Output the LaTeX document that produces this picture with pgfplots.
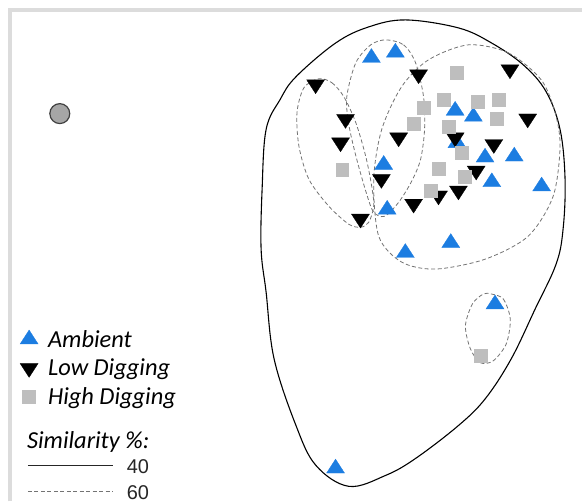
\documentclass[border=0pt]{standalone}
\usepackage{pgfplots}
\pgfplotsset{compat=1.18}
\usepackage{fontspec}
\setmainfont{Carlito}
\newfontfamily\arial{Liberation Sans}
\definecolor{ambblue}{RGB}{28,125,225}
\definecolor{hdgray}{RGB}{190,190,190}
\definecolor{frame}{RGB}{220,220,220}
\begin{document}
\begin{tikzpicture}
\begin{axis}[
  hide axis, scale only axis, width=584pt, height=503pt,
  xmin=0, xmax=584, ymin=0, ymax=503, y dir=reverse, clip=false,
  legend style={at={(axis cs:20,329)}, anchor=north west, draw=none, fill=none,
    inner sep=0pt, row sep=6.5pt, font=\itshape\fontsize{24.5}{28}\selectfont,
    cells={anchor=west}, /tikz/every odd column/.append style={column sep=8pt}},
  legend image code/.code={\draw[mark repeat=2,mark phase=2] plot coordinates {(0pt,0pt)(11pt,0pt)(22pt,0pt)};},
]
\path (axis cs:0,0) rectangle (axis cs:584,503);
% frame
\draw[frame, line width=4pt] (axis cs:10,503) -- (axis cs:10,10) -- (axis cs:584,10);
% 40% contour
\draw[black, line width=1.1pt] plot[smooth cycle, tension=0.6] coordinates {
 (407,20) (460,28) (493,43) (525,65) (548,92) (562,130) (567,180) (565,230) (558,265)
 (537,310) (513,360) (487,400) (460,427) (417,460) (387,477) (350,488) (317,467)
 (297,427) (275,360) (267,293) (262,250) (263,190) (267,130) (281,100) (297,77) (337,43) (370,27)};
% 60% contours
\tikzset{sim60/.style={black!55, line width=0.8pt, dash pattern=on 4pt off 2.5pt}}
\draw[sim60] plot[smooth cycle] coordinates {
 (320,79) (333,83) (345,97) (357,123) (367,157) (373,187) (375,207) (370,223) (362,228)
 (350,225) (330,207) (310,180) (300,147) (298,113) (305,88)};
\draw[sim60] plot[smooth cycle] coordinates {
 (387,40) (405,45) (417,63) (425,97) (426,130) (422,160) (413,182) (400,203) (386,217)
 (375,213) (368,195) (358,160) (350,125) (348,97) (357,63) (372,45)};
\draw[sim60] plot[smooth cycle] coordinates {
 (470,45) (510,53) (543,80) (557,113) (562,147) (555,197) (530,237) (487,260) (437,270)
 (403,263) (380,237) (375,180) (383,130) (403,87) (430,60)};
\draw[sim60] plot[smooth cycle] coordinates {
 (493,295) (505,300) (512,320) (508,345) (495,362) (482,364) (472,350) (467,327) (474,305) (485,295)};
% outlier
\addplot[only marks, mark=*, mark size=10pt, mark options={fill=black!35, draw=black!75, line width=1.2pt}, forget plot]
 coordinates {(60,114)};
% Ambient
\addplot[only marks, mark=triangle*, mark size=9.3pt, mark options={xscale=1.12, fill=ambblue, draw=ambblue, line width=0.3pt}]
 coordinates {(372.7,58) (396.7,52.7) (456.7,111) (475,117) (458.5,143.5) (486.7,158) (516,157)
 (385,165.3) (493.5,182.7) (543.5,187) (388.5,210.3) (406.7,253.7) (452.3,243.7) (496.7,305.3) (336.7,470)};
\addlegendentry{Ambient}
% Low digging
\addplot[only marks, mark=triangle*, mark size=9.3pt, mark options={rotate=180, xscale=1.12, fill=black, draw=black, line width=0.3pt}]
 coordinates {(316.7,84.7) (420,74.7) (511.7,69.7) (346.7,119.5) (341.7,143) (400,138) (529.5,119)
 (456.7,138) (495.5,144.7) (477.8,171.3) (382.7,179.7) (415,204.5) (440,196.3) (460,191.3) (361.7,219.5)};
\addlegendentry{Low Digging}
% High digging
\addplot[only marks, mark=square*, mark size=6.5pt, mark options={fill=hdgray, draw=hdgray, line width=0.3pt}]
 coordinates {(458,72.7) (445,100.3) (425,108.3) (479.5,101.7) (500,100) (498.3,119.3) (415,124)
 (450,127.3) (463.3,152.7) (440,169.3) (466.5,177.3) (431.7,191.7) (343.3,170) (482,357)};
\addlegendentry{High Digging}
% similarity legend
\node[anchor=base west, inner sep=0pt, font=\itshape\fontsize{24.5}{28}\selectfont] at (axis cs:27,450) {Similarity \%:};
\draw[black!85, line width=0.9pt] (axis cs:28,467) -- (axis cs:113,467);
\node[anchor=base west, inner sep=0pt, text=black!85, font=\arial\fontsize{20}{24}\selectfont] at (axis cs:127,475) {40};
\draw[sim60] (axis cs:28,493) -- (axis cs:113,493);
\node[anchor=base west, inner sep=0pt, text=black!85, font=\arial\fontsize{20}{24}\selectfont] at (axis cs:127,501.5) {60};
\end{axis}
\end{tikzpicture}
\end{document}
